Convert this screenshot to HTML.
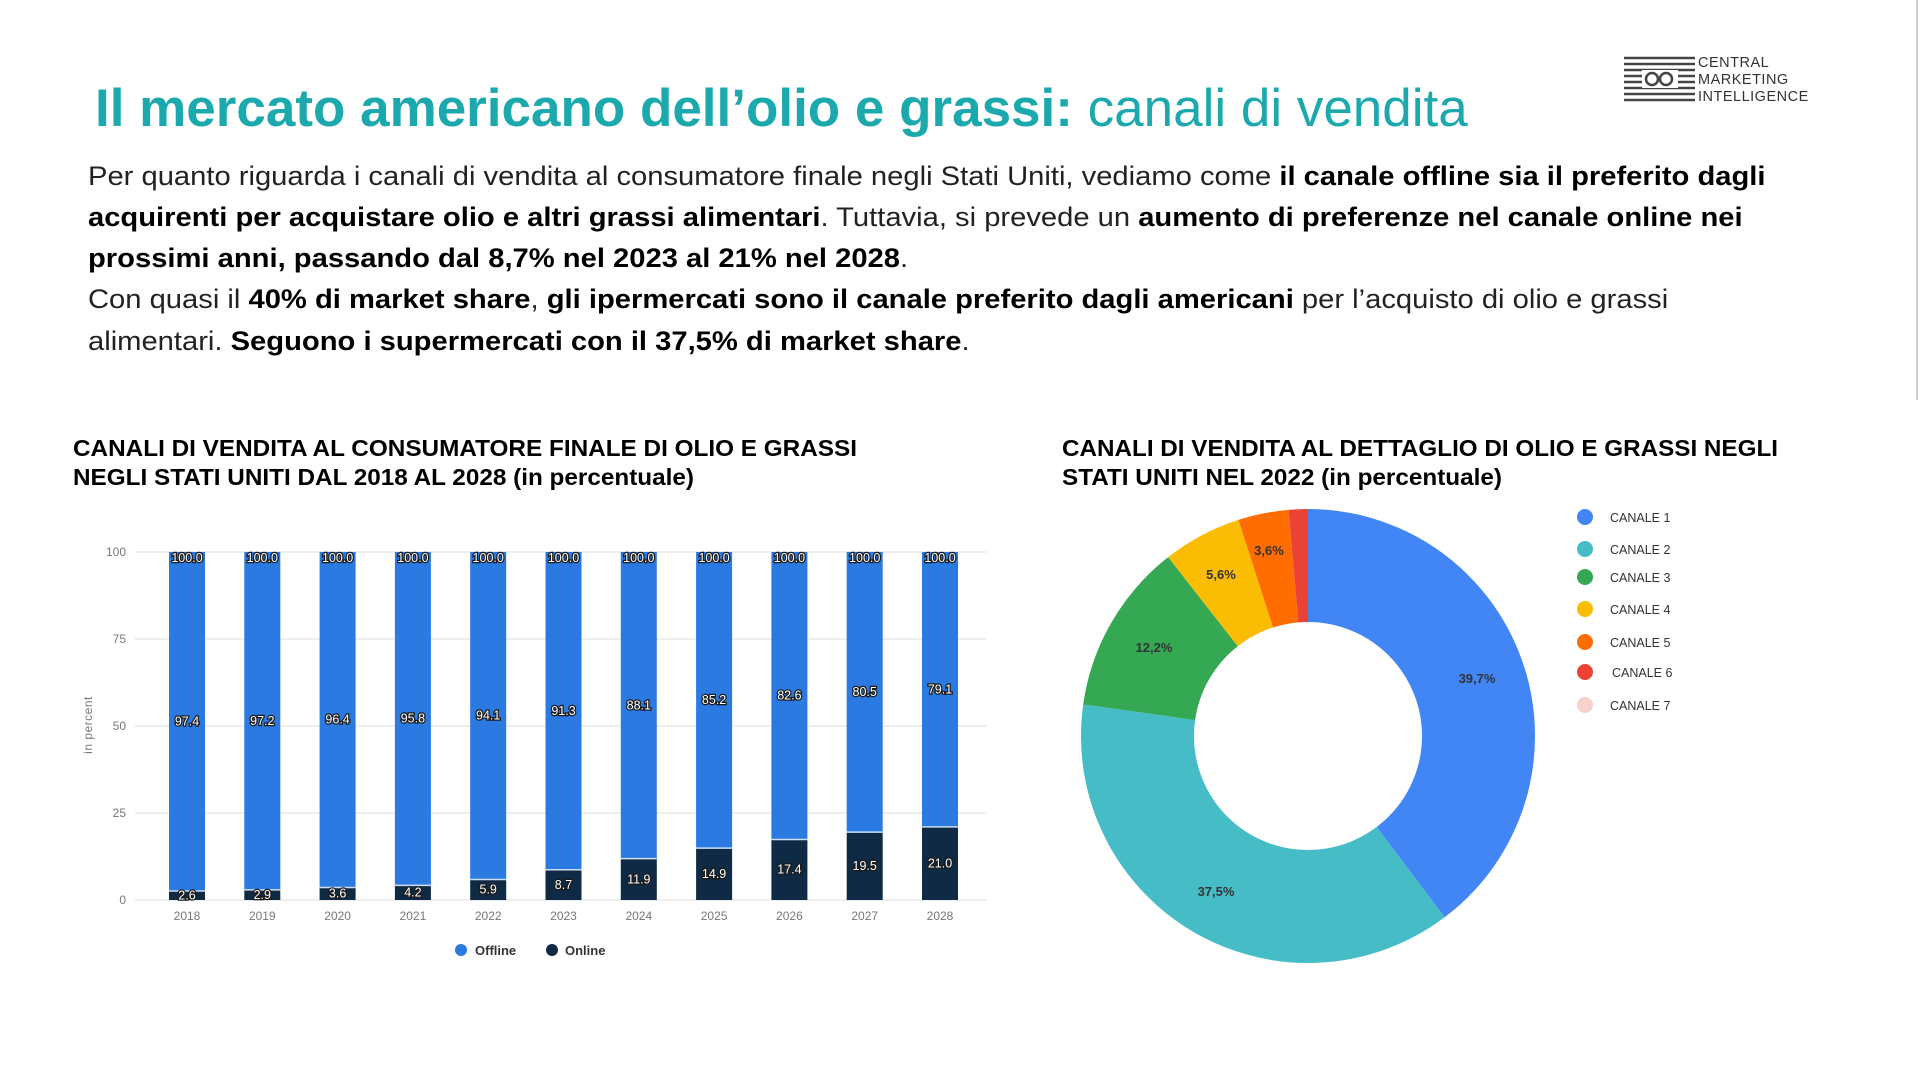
<!DOCTYPE html>
<html><head><meta charset="utf-8"><style>
body{margin:0;width:1920px;height:1080px;background:#fff;overflow:hidden;position:relative;font-family:"Liberation Sans",Arial,sans-serif}
.t{position:absolute;left:95px;top:78px;font-size:53px;color:#1ba9ae;white-space:nowrap}
.p{position:absolute;left:88px;white-space:nowrap;font-size:27px;color:#222;transform:scaleX(1.08);transform-origin:0 0}
b{font-weight:bold;color:#000}
</style></head><body>
<div class="t"><b style="color:#1ba9ae">Il mercato americano dell’olio e grassi:</b> canali di vendita</div>
<div class="p" style="top:161px">Per quanto riguarda i canali di vendita al consumatore finale negli Stati Uniti, vediamo come <b>il canale offline sia il preferito dagli</b></div>
<div class="p" style="top:202px"><b>acquirenti per acquistare olio e altri grassi alimentari</b>. Tuttavia, si prevede un <b>aumento di preferenze nel canale online nei</b></div>
<div class="p" style="top:243px"><b>prossimi anni, passando dal 8,7% nel 2023 al 21% nel 2028</b>.</div>
<div class="p" style="top:284px">Con quasi il <b>40% di market share</b>, <b>gli ipermercati sono il canale preferito dagli americani</b> per l’acquisto di olio e grassi</div>
<div class="p" style="top:326px">alimentari. <b>Seguono i supermercati con il 37,5% di market share</b>.</div>
<svg width="1920" height="1080" style="position:absolute;left:0;top:0" font-family="Liberation Sans, Arial, sans-serif">
<line x1="1917" y1="0" x2="1917" y2="400" stroke="#ccc" stroke-width="2"/>
<g stroke="#444" stroke-width="2.5">
<line x1="1624" y1="58" x2="1695" y2="58"/><line x1="1624" y1="64" x2="1695" y2="64"/><line x1="1624" y1="70" x2="1695" y2="70"/>
<line x1="1624" y1="76" x2="1695" y2="76"/><line x1="1624" y1="82" x2="1695" y2="82"/><line x1="1624" y1="88" x2="1695" y2="88"/>
<line x1="1624" y1="94" x2="1695" y2="94"/><line x1="1624" y1="100" x2="1695" y2="100"/>
</g>
<rect x="1642" y="70" width="36" height="18" fill="#fff"/>
<circle cx="1652" cy="79" r="6" fill="none" stroke="#444" stroke-width="2.5"/><circle cx="1666" cy="79" r="6" fill="none" stroke="#444" stroke-width="2.5"/>
<g font-size="14.5" fill="#333" letter-spacing="0.5"><text x="1698" y="67">CENTRAL</text><text x="1698" y="84">MARKETING</text><text x="1698" y="101">INTELLIGENCE</text></g>
<g font-weight="bold" font-size="23" fill="#000">
<text x="73" y="456" textLength="784" lengthAdjust="spacingAndGlyphs">CANALI DI VENDITA AL CONSUMATORE FINALE DI OLIO E GRASSI</text>
<text x="73" y="485" textLength="621" lengthAdjust="spacingAndGlyphs">NEGLI STATI UNITI DAL 2018 AL 2028 (in percentuale)</text>
<text x="1062" y="456" textLength="716" lengthAdjust="spacingAndGlyphs">CANALI DI VENDITA AL DETTAGLIO DI OLIO E GRASSI NEGLI</text>
<text x="1062" y="485" textLength="440" lengthAdjust="spacingAndGlyphs">STATI UNITI NEL 2022 (in percentuale)</text>
</g>
<g stroke="#e8e8e8" stroke-width="1.5">
<line x1="135" y1="552" x2="986" y2="552"/><line x1="135" y1="639" x2="986" y2="639"/><line x1="135" y1="726" x2="986" y2="726"/><line x1="135" y1="813" x2="986" y2="813"/><line x1="135" y1="900" x2="986" y2="900"/>
</g>
<g font-size="12" fill="#777" text-anchor="end">
<text x="126" y="556">100</text><text x="126" y="643">75</text><text x="126" y="730">50</text><text x="126" y="817">25</text><text x="126" y="904">0</text>
</g>
<text transform="translate(92,725) rotate(-90)" font-size="12" fill="#777" text-anchor="middle" letter-spacing="0.5">in percent</text>
<g id="bars"></g>
<g font-size="12" fill="#777" text-anchor="middle">
<text x="187" y="920">2018</text><text x="262.3" y="920">2019</text><text x="337.6" y="920">2020</text><text x="412.9" y="920">2021</text><text x="488.2" y="920">2022</text><text x="563.5" y="920">2023</text><text x="638.8" y="920">2024</text><text x="714.1" y="920">2025</text><text x="789.4" y="920">2026</text><text x="864.7" y="920">2027</text><text x="940" y="920">2028</text>
</g>
<circle cx="461" cy="950" r="6" fill="#2a7ae2"/><text x="475" y="955" font-size="13" font-weight="bold" fill="#333">Offline</text>
<circle cx="552" cy="950" r="6" fill="#0f2a44"/><text x="565" y="955" font-size="13" font-weight="bold" fill="#333">Online</text>
<g transform="rotate(-90 1308 736)" fill="none" stroke-width="113">
<circle cx="1308" cy="736" r="170.5" stroke="#4285f4" stroke-dasharray="425.30 2000" stroke-dashoffset="0"/>
<circle cx="1308" cy="736" r="170.5" stroke="#46bdc6" stroke-dasharray="401.73 2000" stroke-dashoffset="-425.30"/>
<circle cx="1308" cy="736" r="170.5" stroke="#34a853" stroke-dasharray="130.70 2000" stroke-dashoffset="-827.03"/>
<circle cx="1308" cy="736" r="170.5" stroke="#fbbc04" stroke-dasharray="59.99 2000" stroke-dashoffset="-957.73"/>
<circle cx="1308" cy="736" r="170.5" stroke="#ff6d01" stroke-dasharray="38.57 2000" stroke-dashoffset="-1017.72"/>
<circle cx="1308" cy="736" r="170.5" stroke="#ea4335" stroke-dasharray="15.00 2000" stroke-dashoffset="-1056.29"/>
</g>
<g font-size="13" font-weight="bold" fill="#333" text-anchor="middle">
<text x="1477" y="683">39,7%</text><text x="1216" y="896">37,5%</text><text x="1154" y="652">12,2%</text><text x="1221" y="579">5,6%</text><text x="1269" y="555">3,6%</text>
</g>
<g font-size="12.5" fill="#333">
<circle cx="1585" cy="517" r="8" fill="#4285f4"/><text x="1610" y="522">CANALE 1</text>
<circle cx="1585" cy="549" r="8" fill="#46bdc6"/><text x="1610" y="554">CANALE 2</text>
<circle cx="1585" cy="577" r="8" fill="#34a853"/><text x="1610" y="582">CANALE 3</text>
<circle cx="1585" cy="609" r="8" fill="#fbbc04"/><text x="1610" y="614">CANALE 4</text>
<circle cx="1585" cy="642" r="8" fill="#ff6d01"/><text x="1610" y="647">CANALE 5</text>
<circle cx="1585" cy="672" r="8" fill="#ea4335"/><text x="1612" y="677">CANALE 6</text>
<circle cx="1585" cy="705" r="8" fill="#f8d0cc"/><text x="1610" y="710">CANALE 7</text>
</g>
</svg>
<script>
var on=[2.6,2.9,3.6,4.2,5.9,8.7,11.9,14.9,17.4,19.5,21.0],off=['97.4','97.2','96.4','95.8','94.1','91.3','88.1','85.2','82.6','80.5','79.1'],s='';
on.forEach(function(v,i){var c=187+75.3*i,x=c-18,h=3.48*v,t=900-h;
s+='<rect x="'+x+'" y="552" width="36" height="'+(t-552)+'" fill="#2a7ae2"/>';
s+='<rect x="'+x+'" y="'+t+'" width="36" height="'+h+'" fill="#0f2a44"/>';
s+='<line x1="'+x+'" x2="'+(x+36)+'" y1="'+t+'" y2="'+t+'" stroke="#cfe0f5" stroke-width="1.5"/>';
var st='font-size="12.5" fill="#fff" stroke="#1a1a1a" stroke-width="2.5" paint-order="stroke" text-anchor="middle"';
s+='<text x="'+c+'" y="562" '+st+'>100.0</text>';
s+='<text x="'+c+'" y="'+((552+t)/2+4)+'" '+st+'>'+off[i]+'</text>';
s+='<text x="'+c+'" y="'+(900-h/2+4)+'" '+st+'>'+v.toFixed(1)+'</text>';});
document.getElementById('bars').innerHTML=s;
</script>
</body></html>
